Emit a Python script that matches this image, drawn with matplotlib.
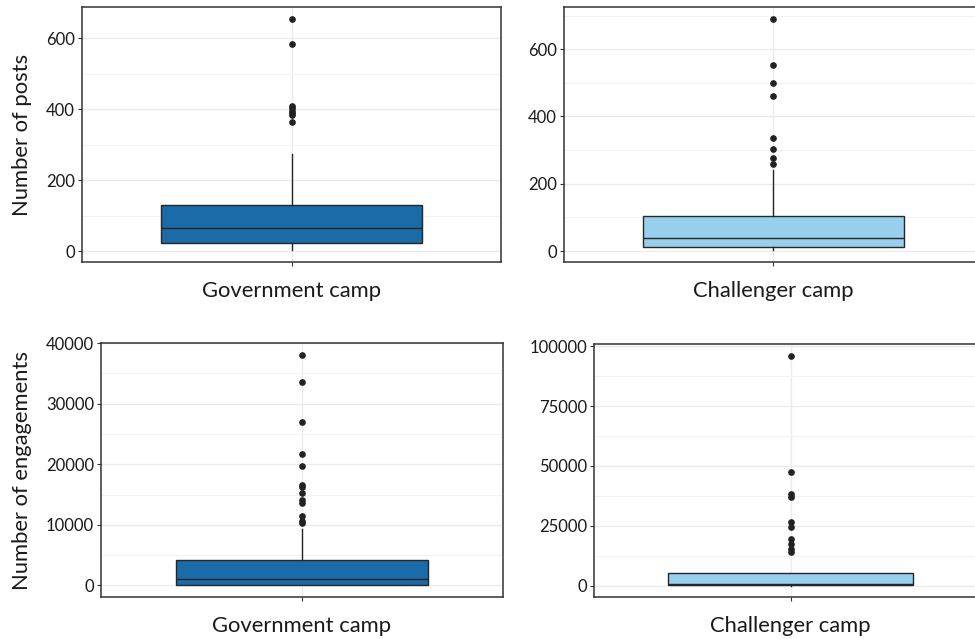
import matplotlib
matplotlib.use("Agg")
import matplotlib.pyplot as plt
from matplotlib.ticker import MultipleLocator

plt.rcParams["font.family"] = ["Lato", "DejaVu Sans"]

# Box statistics -----------------------------------------------------------
camps = ["Government camp", "Challenger camp", "Government camp", "Challenger camp"]
y_labels = ["Number of posts", "", "Number of engagements", ""]
fill_colors = ["#1b6ba8", "#98cfec", "#1b6ba8", "#98cfec"]

q1 = [23, 11, 110, 120]
med = [67, 38, 1050, 700]
q3 = [130, 104, 4170, 5230]
whis_low = [3, 2, 0, 0]
whis_high = [275, 241, 9320, 5300]
fliers = [
    [656, 585, 410, 403, 397, 390, 384, 364],
    [691, 554, 500, 461, 336, 303, 277, 259],
    [38100, 33600, 26960, 21760, 19730, 16550, 16280, 15290, 14140, 13600,
     11510, 10690, 10260],
    [96200, 47460, 38260, 37150, 26400, 24500, 19400, 17200, 15430, 14030],
]
major_step = [200, 200, 10000, 25000]

# Panel positions in pixels (left, top, width, height) on a 975x639 canvas
panel_px = [(82, 7, 419, 255), (564, 7, 419, 255),
            (101, 343, 402, 254), (594, 344, 393, 253)]


def main():
    fig = plt.figure(figsize=(9.75, 6.39), dpi=100)
    W, H = 975, 639

    for i in range(4):
        l, t, w, h = panel_px[i]
        ax = fig.add_axes([l / W, 1 - (t + h) / H, w / W, h / H])

        stats = [{
            "med": med[i], "q1": q1[i], "q3": q3[i],
            "whislo": whis_low[i], "whishi": whis_high[i],
            "fliers": fliers[i], "label": camps[i],
        }]
        ax.bxp(stats, positions=[1], widths=0.75, showcaps=False,
               patch_artist=True, zorder=3,
               boxprops=dict(facecolor=fill_colors[i], edgecolor="#262626", linewidth=1.0),
               medianprops=dict(color="#262626", linewidth=1.0),
               whiskerprops=dict(color="#262626", linewidth=1.0),
               flierprops=dict(marker="o", markersize=3.8, markerfacecolor="#222222",
                               markeredgecolor="#222222"))

        lo = min(whis_low[i], min(fliers[i]))
        hi = max(whis_high[i], max(fliers[i]))
        pad = 0.05 * (hi - lo)
        ax.set_ylim(lo - pad, hi + pad)
        ax.set_xlim(0.4, 1.6)

        ax.yaxis.set_major_locator(MultipleLocator(major_step[i]))
        ax.yaxis.set_minor_locator(MultipleLocator(major_step[i] / 2))
        ax.grid(True, which="major", color="#ebebeb", linewidth=1.0, zorder=0)
        ax.grid(True, which="minor", axis="y", color="#f2f2f2", linewidth=0.8, zorder=0)
        ax.set_axisbelow(True)

        ax.tick_params(axis="both", which="major", length=3, width=0.8, color="#333333",
                       labelsize=12, labelcolor="#1a1a1a", pad=2)
        ax.tick_params(axis="y", which="minor", length=0)
        ax.tick_params(axis="x", labelsize=15.8, pad=11)
        ax.set_xticks([1])
        ax.set_xticklabels([camps[i]])

        for s in ax.spines.values():
            s.set_color("#333333")
            s.set_linewidth(1.1)

        if y_labels[i]:
            ax.set_ylabel(y_labels[i], fontsize=15.8, color="#1a1a1a", labelpad=10)

    fig.savefig("out.png", dpi=100)


if __name__ == "__main__":
    main()
